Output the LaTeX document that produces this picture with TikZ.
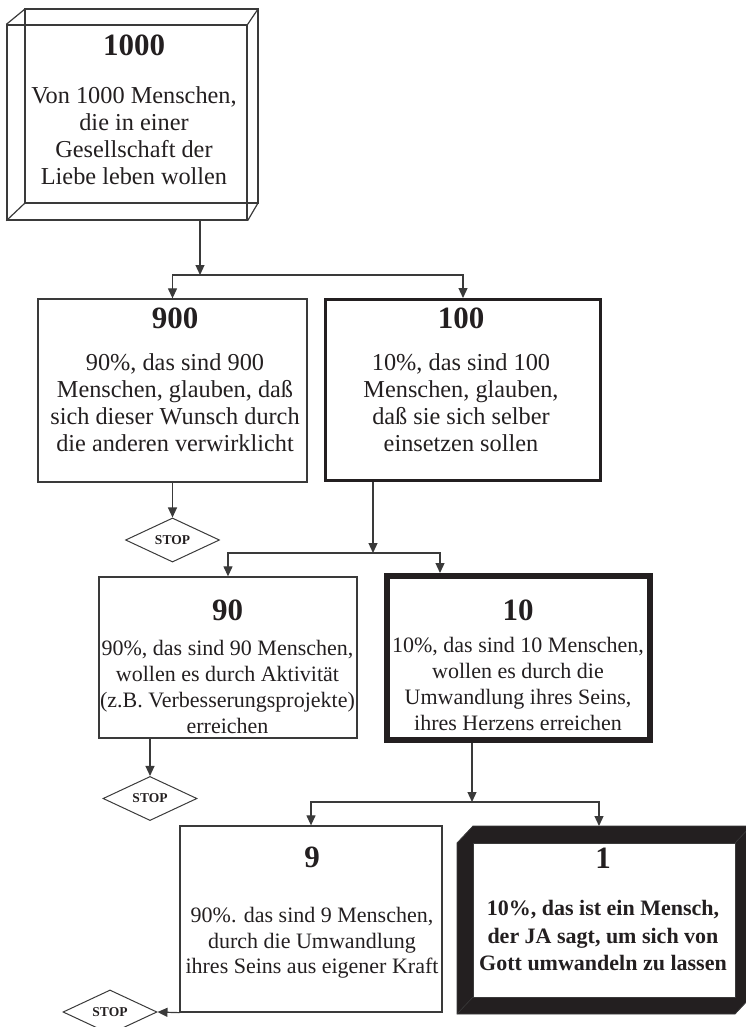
\documentclass[tikz,border=0pt]{standalone}
\usepackage{fontspec}
\setmainfont{Liberation Serif}
\usetikzlibrary{
  arrows.meta,
  positioning,
  shapes.geometric
}
\definecolor{ink}{HTML}{231F20}
\definecolor{wire}{HTML}{3A3A3A}
\newcommand{\ttl}[1]{{\fontsize{31}{31}\selectfont\bfseries #1}}

\begin{document}
\begin{tikzpicture}[x=1pt, y=-1pt,
  every node/.style={text=ink},
  thinbox/.style={draw=wire, line width=1.3pt, inner sep=0pt},
  midbox/.style={draw=ink, line width=3pt, inner sep=0pt},
  heavybox/.style={draw=ink, line width=6pt, inner sep=0pt},
  ghost/.style={inner sep=0pt, outer sep=0pt},
  txt/.style={align=center, inner sep=0pt, anchor=north},
  bigtxt/.style={txt, font=\fontsize{24.3}{27}\selectfont},
  smalltxt/.style={txt, font=\fontsize{22}{26}\selectfont},
  stopbox/.style={draw=wire, diamond, line width=1pt, inner sep=0pt,
    minimum width=94pt, minimum height=39pt,
    font=\fontsize{13.5}{14}\selectfont\bfseries},
  wireline/.style={draw=wire, line width=1.2pt},
  link/.style={draw=wire, line width=1.2pt, -{Triangle[length=10pt, width=9pt]}}
]
  \useasboundingbox (0,0) rectangle (746,1027);

  \node[thinbox, minimum width=240pt, minimum height=195pt] (b1000) at (127,122.5) {};
  \draw[wireline] (25,9) rectangle (258,203);
  \draw[wireline] (b1000.north west) -- (25,9) (b1000.north east) -- (258,9)
    (b1000.south west) -- (25,203) (b1000.south east) -- (258,203);
  \node[bigtxt] (t1000) at (134,35) {\ttl{1000}\\[21pt]
    Von 1000 Menschen,\\ die in einer\\ Gesellschaft der\\ Liebe leben wollen};

  \node[thinbox, minimum width=269pt, minimum height=183pt] (b900) at (172.5,390.5) {};
  \node[bigtxt] (t900) at (175,308) {\ttl{900}\\[15pt]
    90\%, das sind 900\\ Menschen, glauben, daß\\ sich dieser Wunsch durch\\ die anderen verwirklicht};

  \node[midbox, minimum width=275pt, minimum height=181pt] (b100) at (463,390) {};
  \node[bigtxt] (t100) at (461,308) {\ttl{100}\\[15pt]
    10\%, das sind 100\\ Menschen, glauben,\\ daß sie sich selber\\ einsetzen sollen};

  \node[stopbox] (s1) at (172.5,540) {STOP};

  \node[thinbox, minimum width=258pt, minimum height=161pt] (b90) at (228,657.5) {};
  \node[smalltxt] (t90) at (227.5,600) {\ttl{90}\\[9pt]
    90\%, das sind 90 Menschen,\\ wollen es durch Aktivität\\ (z.B. Verbesserungsprojekte)\\ erreichen};

  \node[heavybox, minimum width=263pt, minimum height=164pt] (b10) at (518.5,658) {};
  \node[smalltxt] (t10) at (518,600) {\ttl{10}\\[6pt]
    10\%, das sind 10 Menschen,\\ wollen es durch die\\ Umwandlung ihres Seins,\\ ihres Herzens erreichen};

  \node[stopbox] (s2) at (150,798.5) {STOP};

  \node[thinbox, minimum width=262pt, minimum height=186pt] (b9) at (311,919) {};
  \node[txt, font=\fontsize{22}{25.5}\selectfont] (t9) at (312,847) {\ttl{9}\\[29.5pt]
    90\%. das sind 9 Menschen,\\ durch die Umwandlung\\ ihres Seins aus eigener Kraft};

  \node[ghost, minimum width=278pt, minimum height=171pt] (b1) at (596,928.5) {};
  \node[ghost, minimum width=278pt, minimum height=171pt] (b1back) at (612,911.5) {};
  \fill[ink, draw=wire, line width=0.8pt] (b1back.north west) -- (b1back.north east)
    -- (b1back.south east) -- (b1.south east) -- (b1.south west) -- (b1.north west) -- cycle;
  \fill[white, draw=wire, line width=0.8pt] (b1back.west |- b1.north) rectangle (b1.east |- b1back.south);
  \draw[wire, line width=0.6pt] (b1.south west) -- (b1back.south west)
    (b1.north east) -- (b1back.north east);
  \node[txt, font=\fontsize{22}{27.5}\selectfont\bfseries] (t1) at (603,848) {\ttl{1}\\[19.5pt]
    10\%, das ist ein Mensch,\\ der JA sagt, um sich von\\ Gott umwandeln zu lassen};

  \node[stopbox] (s3) at (110,1012) {STOP};

  \coordinate (j1) at (200,275);
  \draw[link] (b1000.south -| j1) -- (j1);
  \draw[link] (j1) -| (b900);
  \draw[link] (j1) -| (b100);
  \draw[link] (b900) -- (s1);

  \coordinate (j2) at (373,553);
  \draw[link] (b100.south -| j2) -- (j2);
  \draw[link] (j2) -| (b90);
  \draw[link] (j2) -| ([xshift=-78.5pt]b10.north);
  \draw[link] (b90.south -| s2) -- (s2);

  \coordinate (j3) at (472,802);
  \draw[link] (b10.south -| j3) -- (j3);
  \draw[link] (j3) -| (b9);
  \draw[link] (j3) -| ([xshift=-13pt]b1back.north);
  \draw[link] (b9.south west) -- (s3.east);

\end{tikzpicture}
\end{document}
